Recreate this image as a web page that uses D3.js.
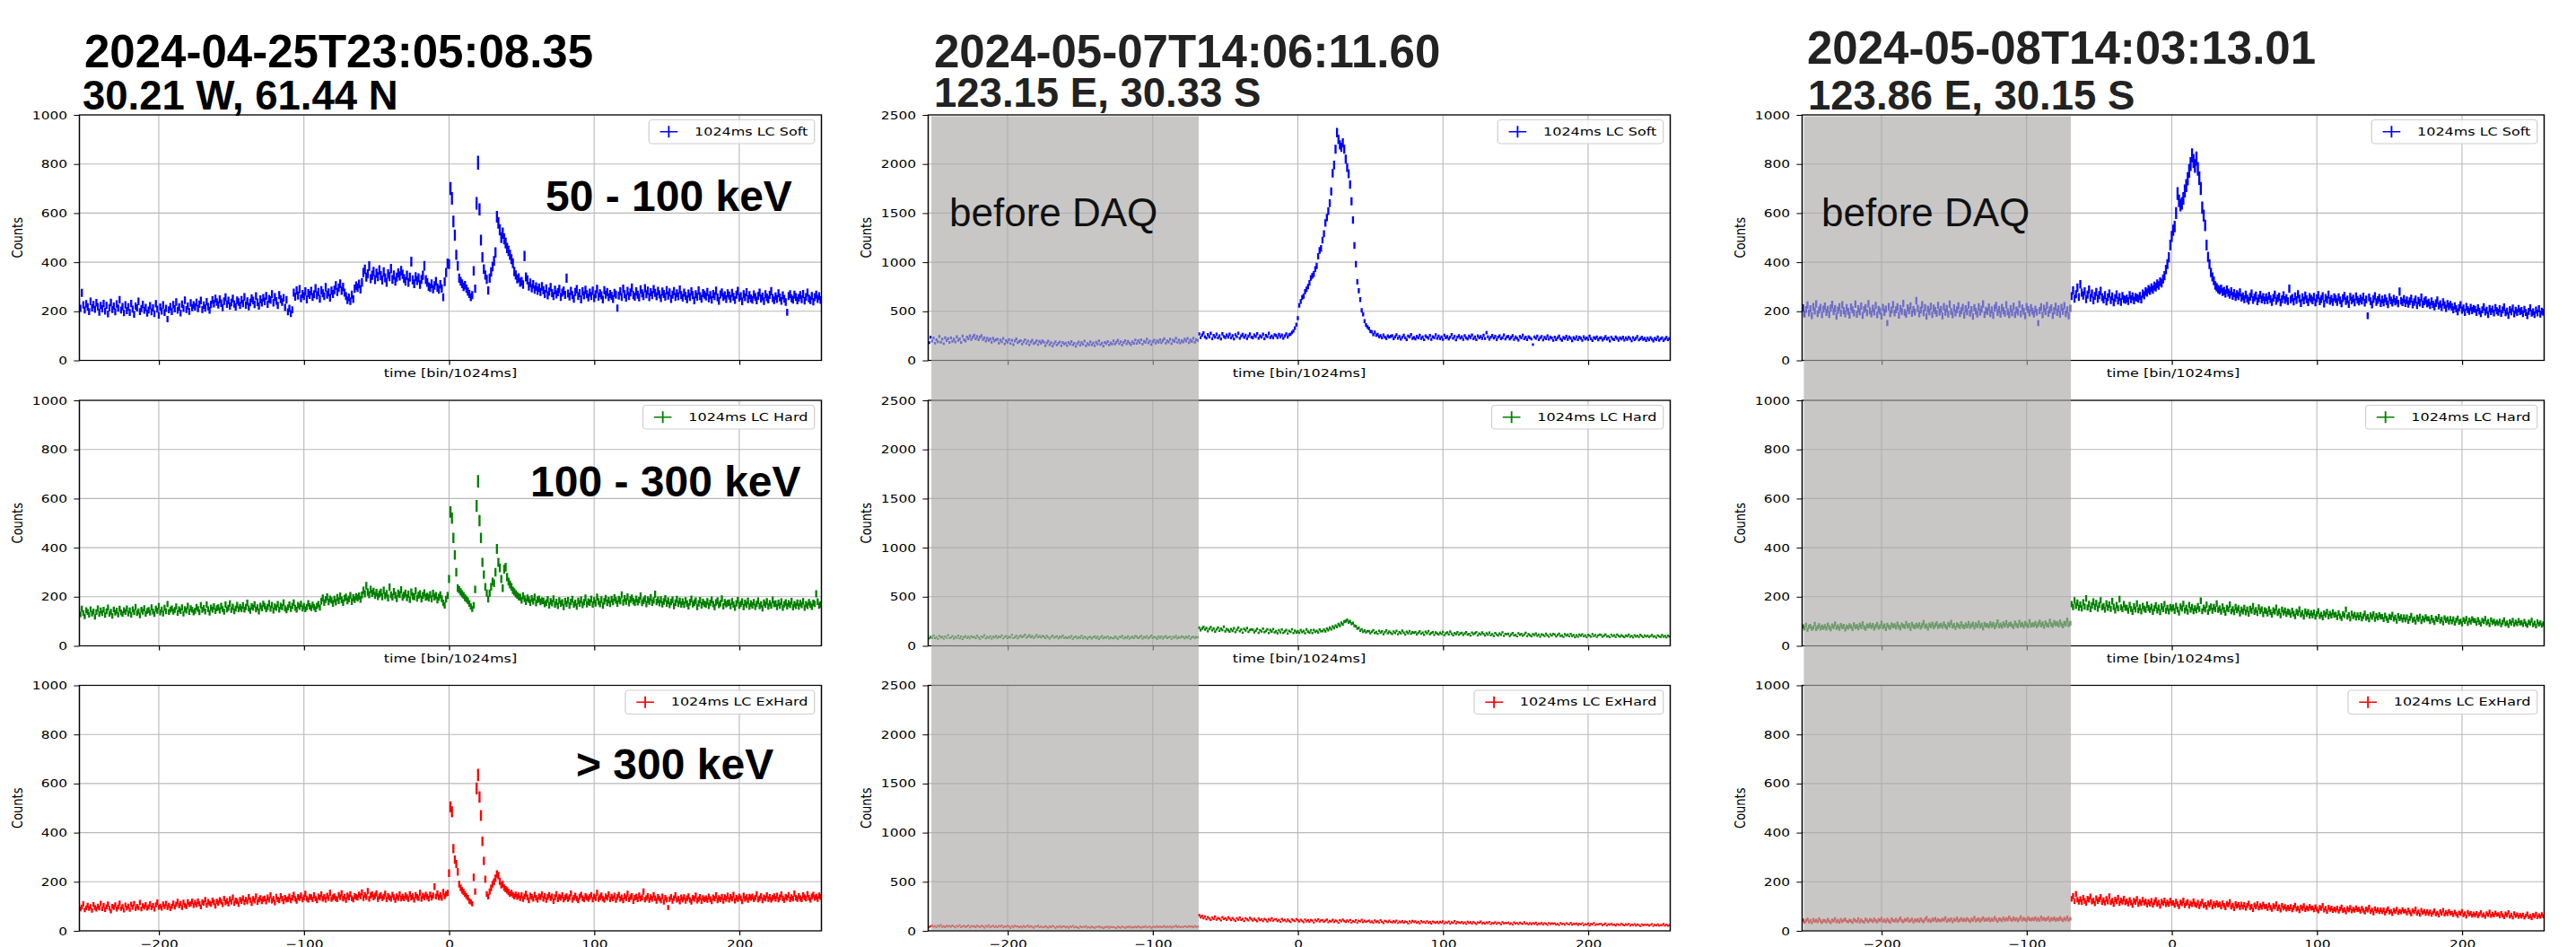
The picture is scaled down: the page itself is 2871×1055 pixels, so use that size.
<!DOCTYPE html>
<html><head><meta charset="utf-8">
<script src="https://cdn.jsdelivr.net/npm/d3@7"></script>
<style>body{margin:0;background:#fff}svg{display:block}</style>
</head><body>
<script>
// ---------------- DATA ----------------
const firstBin = -255;              // time bin of first value, one value per 1024 ms bin
const xTicks = [-200, -100, 0, 100, 200];
const titleDates = ["2024-04-25T23:05:08.35", "2024-05-07T14:06:11.60", "2024-05-08T14:03:13.01"];
const titleLocs = ["30.21 W, 61.44 N", "123.15 E, 30.33 S", "123.86 E, 30.15 S"];
const legendLabels = ["1024ms LC Soft", "1024ms LC Hard", "1024ms LC ExHard"];
const energyLabels = ["50 - 100 keV", "100 - 300 keV", "> 300 keV"];
const yMaxByEvent = [1000, 2500, 1000];
const yStepByEvent = [200, 500, 200];
const daqWindow = [null, [-252.5, -68.3], [-253.5, -69.5]]; // "before DAQ" shaded span (time bins)
const daqLabel = "before DAQ";

// Event A (2024-04-25)
const evtA_soft = [
238,212,275,226,205,231,218,199,240,214,227,208,235,219,196,224,
210,232,201,224,189,215,236,207,221,198,230,213,247,205,219,194,
226,203,218,195,232,209,187,221,214,240,199,211,228,204,216,192,
205,223,198,214,190,231,209,184,217,201,226,195,212,168,206,219,
199,227,210,238,204,218,193,229,212,245,207,221,200,234,215,226,
218,236,211,229,244,207,225,213,239,219,204,228,246,231,252,238,
226,249,233,215,241,257,229,244,221,236,252,230,218,245,238,224,
247,232,258,225,241,219,236,253,244,228,262,237,221,249,235,255,
240,263,229,251,246,270,235,258,242,224,266,249,238,255,216,247,
198,212,190,206,276,259,285,264,290,253,271,262,281,248,274,267,
283,258,270,294,265,279,251,286,273,262,298,268,277,255,284,271,
287,305,279,296,312,284,299,276,262,245,256,241,268,250,292,304,
296,311,289,318,358,371,339,352,384,333,347,362,329,355,341,368,
345,327,360,336,318,352,341,374,330,348,322,339,356,344,366,351,
334,322,347,318,339,402,328,312,341,325,336,309,330,347,385,329,
318,301,296,312,290,305,322,296,288,310,293,257,320,358,395,392,
700,660,566,510,430,385,335,322,312,300,306,292,280,271,257,266,
365,292,640,805,615,490,420,372,348,330,285,335,360,382,405,440,
585,560,532,500,518,495,478,458,446,430,412,396,362,348,332,336,
318,322,309,425,340,328,302,316,294,310,288,301,284,296,279,302,
286,271,293,265,280,298,274,262,287,269,278,291,258,276,284,267,
335,272,260,283,266,251,279,290,262,274,248,281,265,287,270,256,
276,262,284,254,270,291,259,273,265,248,286,268,279,257,271,263,
250,275,268,213,264,281,258,292,270,255,283,262,277,296,266,259,
281,268,256,289,273,262,294,270,284,257,278,266,290,275,261,283,
269,254,280,271,259,286,264,277,250,268,282,258,273,261,288,266,
255,276,263,249,272,258,281,266,244,270,259,285,262,251,274,268,
260,279,253,266,247,271,262,284,256,242,269,277,258,265,250,273,
264,251,275,259,246,268,283,255,262,240,270,257,278,249,266,253,
247,269,258,244,263,276,252,260,241,270,256,248,267,282,254,245,
261,250,273,256,242,265,251,238,196,262,270,253,247,268,258,244,
255,266,249,271,243,258,276,252,245,263,239,257,268,250,262,246];

const evtA_hard = [
142,128,151,133,120,145,138,126,149,131,140,118,137,152,129,144,
133,147,125,141,156,130,139,122,148,135,143,127,151,136,129,145,
138,152,131,144,126,149,137,158,133,141,124,147,139,153,130,142,
146,135,157,140,129,151,143,162,136,148,131,155,141,170,138,147,
152,139,146,160,134,149,142,157,131,150,144,163,138,153,147,136,
143,158,150,137,165,146,154,140,168,149,135,156,147,161,142,153,
157,144,163,150,139,168,148,155,172,146,159,141,152,166,149,158,
150,165,147,158,175,152,143,161,156,169,148,157,140,163,153,171,
162,149,158,173,151,166,144,160,155,170,147,163,158,176,152,145,
157,168,150,163,176,155,147,166,159,171,152,162,149,158,173,161,
154,167,158,149,163,170,156,182,195,176,188,200,179,191,185,172,
190,178,197,184,203,187,176,194,199,183,191,205,180,196,188,201,
195,203,189,207,226,212,245,219,208,230,214,222,205,217,201,211,
218,200,226,204,213,195,239,208,199,221,206,192,215,209,228,198,
207,215,196,210,188,219,203,200,224,194,206,212,190,205,216,198,
202,195,209,191,214,199,205,186,198,208,192,175,165,190,205,272,
545,520,440,370,300,235,228,220,212,205,196,190,184,172,160,150,
165,230,570,670,510,440,340,290,240,215,190,215,240,262,255,300,
395,340,318,272,235,312,320,280,262,250,240,226,220,212,206,200,
198,185,204,192,180,195,188,176,193,182,199,174,187,191,179,184,
183,170,176,189,165,181,174,192,168,179,163,185,172,177,158,182,
171,186,164,179,190,168,175,160,183,172,187,166,178,195,169,180,
176,191,168,185,173,199,181,170,188,164,182,194,175,186,171,190,
179,196,185,172,190,183,208,177,193,181,200,174,188,195,182,176,
191,178,186,203,175,184,192,170,188,181,197,176,185,210,179,187,
174,188,169,181,193,172,184,166,179,187,162,176,190,171,183,168,
180,167,185,172,161,178,191,169,176,184,158,173,186,165,179,171,
168,181,163,175,187,170,158,177,184,166,173,192,161,178,169,174,
176,162,181,168,155,173,186,164,171,180,158,175,167,183,160,172,
165,178,159,171,184,162,169,152,176,167,181,160,173,164,187,170,
172,158,175,164,180,155,169,177,161,173,166,182,157,170,163,176,
160,174,166,181,155,170,163,178,168,159,175,171,212,180,164,169];

const evtA_exhard = [
102,89,97,110,85,94,104,91,99,83,107,95,88,101,93,112,
90,103,86,98,109,92,80,100,95,106,88,97,113,91,99,84,
105,93,101,87,108,96,111,90,100,94,115,89,102,97,107,92,
98,110,94,103,88,106,117,96,101,92,109,99,112,95,104,90,
100,113,97,108,120,102,111,95,116,104,99,118,107,110,121,103,
115,106,121,110,98,117,113,127,104,119,112,108,124,116,101,120,
113,126,119,107,131,115,122,110,129,118,136,112,124,120,108,127,
121,133,116,128,119,138,125,112,130,123,141,117,127,134,120,129,
132,119,136,126,145,123,130,115,139,128,124,142,131,120,135,127,
129,140,124,135,147,130,122,138,133,144,127,136,151,131,126,139,
137,128,145,132,124,140,135,149,130,138,126,143,134,155,129,136,
141,132,128,146,137,153,131,139,125,144,136,150,133,127,142,138,
135,148,141,157,133,146,138,162,130,144,149,136,143,152,129,140,
145,133,139,151,128,142,136,130,147,137,125,141,134,149,131,139,
132,144,137,129,150,135,141,126,146,138,133,155,130,143,136,147,
139,131,148,135,144,180,140,152,136,145,134,158,141,150,155,235,
505,485,335,290,272,240,190,175,165,158,150,142,135,122,118,110,
218,160,580,635,545,470,365,285,210,150,140,160,175,190,200,215,
232,225,202,186,190,176,170,165,158,150,155,146,140,148,138,144,
133,145,129,140,151,136,124,143,138,130,147,135,126,141,137,149,
130,142,125,138,146,133,140,121,137,150,128,139,134,145,127,136,
141,129,137,152,126,135,143,131,124,139,147,133,128,142,136,130,
138,146,127,140,133,155,129,137,144,131,126,141,135,149,128,139,
132,143,125,138,147,130,136,124,141,133,151,128,137,142,121,135,
139,128,144,131,136,160,127,134,142,125,137,130,146,133,122,138,
131,124,140,118,135,127,95,129,138,122,133,145,126,131,119,136,
127,137,122,133,141,126,118,135,130,144,123,129,138,121,134,128,
133,125,140,129,120,136,131,145,124,134,128,139,122,137,130,143,
126,138,131,147,123,135,129,140,133,120,143,130,137,125,139,134,
140,128,135,150,127,133,142,124,136,131,145,129,138,126,134,141,
130,143,127,136,149,132,125,139,134,146,128,137,131,152,135,129,
142,133,128,145,137,131,150,135,126,140,147,134,139,129,144,138];

// Event B (2024-05-07)
const evtB_soft = [
223,180,237,197,227,175,210,190,243,185,217,170,231,201,220,183,
230,195,215,188,240,205,219,182,246,210,198,236,221,250,213,238,
255,220,243,211,236,252,214,230,196,225,203,218,185,224,199,210,
215,176,208,190,223,168,200,185,212,172,205,160,198,219,180,193,
201,165,190,210,172,196,158,188,205,170,181,200,162,193,176,198,
185,150,178,196,160,181,145,170,190,157,175,188,149,182,165,177,
150,182,165,192,158,175,143,170,187,155,180,163,196,148,172,160,
190,158,177,150,185,167,199,161,176,145,183,170,192,156,179,165,
198,165,186,205,170,189,157,182,201,168,193,176,160,190,174,208,
172,200,181,210,166,194,185,215,178,196,162,189,206,175,199,184,
210,180,202,221,175,199,188,215,170,204,193,225,184,208,178,200,
188,215,196,222,180,207,193,226,185,211,203,270,232,258,280,240,
228,262,240,275,221,253,236,268,230,250,219,271,243,233,259,238,
266,230,252,218,260,241,277,226,249,264,235,255,222,247,270,237,
231,258,243,272,225,250,236,266,220,254,241,275,233,248,229,261,
253,232,264,240,258,226,249,270,238,261,268,285,300,330,365,430,
560,600,640,655,700,725,752,790,840,862,880,930,962,1060,1120,1140,
1225,1290,1400,1455,1520,1600,1720,1905,1990,2150,2320,2250,2195,2170,2215,2150,
2050,1965,1900,1790,1620,1430,1170,980,800,710,620,510,470,400,360,340,
325,296,292,262,288,255,264,240,251,229,258,237,222,250,236,245,
252,221,240,260,226,243,215,237,256,230,212,248,239,263,224,233,
218,245,230,257,222,238,210,250,236,226,254,214,241,232,260,225,
247,220,239,213,255,231,242,218,236,262,225,244,208,237,251,227,
240,214,252,229,219,246,233,258,221,238,211,249,230,243,224,255,
222,283,241,215,236,254,227,244,212,237,250,220,231,258,218,239,
245,219,233,252,214,238,226,207,243,230,256,221,235,211,240,229,
217,162,239,225,248,212,230,243,208,234,221,250,215,237,227,203,
236,211,229,247,218,205,233,222,244,214,238,226,200,231,219,241,
210,235,226,204,240,218,229,213,246,221,201,232,224,238,209,227,
231,207,224,242,215,228,198,236,219,210,239,225,204,230,217,235,
206,229,214,237,221,199,232,210,226,243,208,220,235,213,224,202,
227,209,232,216,198,224,211,238,205,220,230,201,219,234,210,222];

const evtB_hard = [
98,74,92,80,105,77,89,70,101,84,93,72,96,81,108,79,
85,99,73,91,82,104,76,95,68,88,100,79,93,74,97,86,
92,78,103,84,71,96,87,109,75,90,81,98,73,94,85,101,
80,95,86,107,74,91,99,77,93,84,110,79,88,102,76,94,
104,86,97,113,82,95,108,88,100,79,94,111,87,99,84,102,
95,78,101,86,72,92,105,81,90,98,76,93,84,103,80,89,
77,92,83,99,71,87,95,74,89,80,102,76,91,85,70,88,
90,72,86,97,78,93,69,84,100,75,88,81,96,73,87,79,
76,95,82,70,91,86,102,74,89,80,97,72,85,93,78,99,
93,77,88,101,73,90,82,98,75,87,105,79,92,84,71,95,
80,96,73,89,100,78,86,94,70,91,83,99,76,88,81,97,
89,75,93,82,98,71,87,94,79,90,84,185,158,176,192,165,
181,150,172,190,158,176,145,168,186,153,175,162,194,148,170,160,
145,170,152,178,140,163,185,149,166,135,172,156,180,143,161,168,
164,138,155,172,133,158,146,175,140,152,168,130,160,145,170,137,
150,128,158,137,165,132,148,160,125,153,141,168,130,155,136,147,
133,160,139,152,128,167,145,135,158,130,162,141,153,136,166,149,
150,165,147,175,160,185,168,196,180,206,192,220,205,234,218,246,
252,262,240,250,226,232,204,200,176,182,155,168,143,156,137,150,
150,127,144,158,130,141,122,153,135,147,119,140,156,128,145,133,
121,146,130,152,118,139,127,155,134,115,143,129,150,124,138,132,
140,117,133,148,122,135,112,143,127,150,119,131,138,110,136,125,
115,134,120,141,108,128,137,117,145,124,106,131,119,138,113,127,
132,110,125,139,114,122,103,134,118,128,140,107,126,115,136,121,
104,127,113,134,109,120,99,130,116,105,125,112,137,101,122,118,
124,100,117,131,106,113,96,128,110,121,102,116,133,98,119,108,
97,120,108,126,101,115,93,117,111,99,124,106,91,118,104,122,
116,95,110,123,99,107,90,119,103,114,96,121,100,111,88,108,
92,114,101,118,96,107,87,112,104,93,120,98,110,89,106,115,
111,91,104,117,95,100,86,113,98,108,90,115,102,93,109,97,
88,106,97,114,91,102,84,109,95,104,89,112,99,86,107,94,
105,89,100,111,93,98,83,107,96,90,110,92,101,85,103,95];

const evtB_exhard = [
52,38,47,57,41,49,35,54,44,60,39,48,36,53,43,50,
40,55,45,33,51,42,58,37,47,53,39,46,56,34,49,44,
49,36,54,43,38,52,46,31,50,41,57,37,45,53,35,48,
37,51,42,55,34,46,40,53,44,30,49,39,52,43,47,36,
46,33,50,39,44,55,36,48,41,30,47,42,52,35,45,38,
35,48,40,31,46,37,51,42,29,44,38,49,34,43,47,33,
43,30,45,38,51,33,41,36,28,47,35,42,39,49,32,40,
31,44,36,29,42,38,47,33,40,26,39,35,45,30,41,37,
40,33,27,43,36,31,45,38,29,41,35,47,32,39,34,44,
34,46,39,31,42,36,49,33,40,45,30,38,43,35,48,37,
45,36,41,50,34,43,38,47,32,44,40,52,37,46,35,42,
38,47,43,35,49,41,46,36,51,39,44,160,138,152,128,145,
118,140,126,110,134,121,145,114,131,124,106,138,120,129,112,136,
125,108,130,116,102,127,113,135,110,121,99,129,117,106,132,119,
104,123,111,97,126,108,118,100,121,113,95,119,107,128,103,115,
118,99,110,92,121,104,113,96,115,102,89,117,106,98,120,108,
94,113,101,88,116,97,108,91,110,103,85,112,99,118,95,106,
109,92,104,114,87,101,95,112,90,106,98,83,108,96,115,100,
89,106,94,110,85,99,92,108,81,101,96,113,88,103,93,98,
103,86,97,81,106,90,99,84,108,93,78,101,95,87,104,91,
84,99,88,103,79,95,86,100,82,96,91,76,98,85,102,89,
97,81,92,76,100,86,94,79,98,83,90,73,95,88,80,93,
78,93,84,97,74,89,81,95,72,88,83,99,76,90,85,80,
90,75,86,70,93,79,88,73,91,80,68,87,83,95,76,84,
72,87,77,91,68,83,75,89,70,85,80,66,88,74,82,78,
84,69,79,64,87,73,81,67,85,75,70,89,72,78,65,80,
66,80,71,85,62,76,69,82,64,78,73,60,81,68,77,71,
77,63,72,58,80,67,74,61,79,70,65,83,62,73,68,75,
60,74,65,79,57,70,63,76,55,71,66,81,59,68,64,72,
71,57,66,75,54,68,61,73,59,65,52,70,63,58,74,62,
55,68,60,72,51,64,57,70,53,66,61,48,67,56,63,59,
65,52,61,70,49,62,55,67,51,60,57,71,53,64,50,58];

// Event C (2024-05-08)
const evtC_soft = [
196,214,188,207,225,193,210,182,219,201,230,190,205,216,185,209,
221,195,208,186,213,228,199,211,180,204,218,192,226,203,189,215,
200,184,217,206,193,229,187,210,198,221,183,207,215,194,231,202,
189,212,197,224,185,208,201,180,216,195,209,152,219,190,205,227,
193,206,218,184,211,200,232,195,187,214,203,222,191,208,197,243,
212,189,205,226,194,215,180,209,198,220,186,213,203,191,224,197,
208,181,219,196,211,188,229,200,185,214,193,206,222,190,203,216,
184,210,198,225,192,207,179,215,201,188,218,196,209,230,186,204,
199,217,190,206,183,213,224,195,208,187,216,202,192,226,198,185,
211,194,220,186,205,197,228,189,213,200,182,219,207,193,215,201,
188,209,196,152,203,218,185,212,199,224,191,206,214,183,202,220,
195,210,187,216,200,223,190,206,181,212,262,285,251,270,296,258,
310,276,264,281,249,268,288,255,272,244,263,279,251,266,283,257,
248,266,239,257,272,245,261,236,254,269,243,258,238,263,250,246,
252,241,266,249,261,244,258,255,251,263,248,272,265,281,276,290,
284,296,288,303,298,312,305,320,315,332,345,370,392,420,470,505,
530,545,600,680,650,632,640,660,690,712,740,772,800,835,812,792,
822,780,742,700,622,590,550,470,422,392,358,340,324,305,298,290,
286,292,279,283,272,288,276,268,281,263,274,258,270,262,277,255,
261,249,268,252,243,259,272,246,256,264,240,253,267,248,258,244,
257,245,263,250,238,255,268,242,253,260,236,249,265,246,254,241,
292,248,255,239,261,246,270,252,233,257,244,264,249,237,258,251,
244,259,236,253,266,240,250,262,231,255,247,268,242,251,238,257,
250,238,257,245,232,254,263,241,248,229,259,244,252,236,261,247,
239,252,243,260,235,248,182,256,241,227,250,262,238,246,255,233,
248,236,253,241,228,257,244,235,251,239,246,232,280,243,237,250,
233,245,230,241,252,227,238,248,224,243,235,256,229,240,246,231,
236,224,241,228,219,233,245,222,230,216,238,225,212,231,220,227,
218,206,222,210,198,215,226,204,213,195,219,207,200,216,203,211,
208,195,214,201,190,206,218,197,204,186,211,199,209,193,215,202,
196,210,191,205,217,194,201,183,207,198,213,189,204,195,211,199,
203,190,208,195,182,200,214,192,198,186,205,193,210,188,201,196];

const evtC_hard = [
68,79,72,85,66,77,81,70,74,88,69,76,83,71,78,73,
80,71,86,75,68,82,77,90,73,79,70,84,76,81,67,78,
74,83,78,69,87,76,80,72,85,77,91,75,70,82,79,86,
77,84,71,80,88,74,79,93,76,82,69,85,78,73,87,80,
83,75,89,78,72,86,81,77,92,79,84,70,88,80,76,85,
79,87,74,83,95,78,82,71,86,80,89,76,84,91,77,82,
85,78,90,81,74,88,83,96,79,84,73,87,82,77,91,80,
76,86,80,92,78,83,89,75,87,81,94,79,85,72,88,83,
84,79,91,82,88,76,85,98,80,86,78,90,83,95,81,87,
89,82,77,93,85,80,96,84,88,79,92,86,81,99,83,87,
85,92,80,88,97,84,90,78,94,86,83,101,87,82,95,89,
91,84,98,87,80,93,88,104,85,92,170,158,185,163,176,155,
168,152,177,160,193,156,171,149,165,180,158,174,151,166,185,157,
162,147,172,155,168,150,182,159,144,166,153,190,157,149,170,156,
155,143,166,150,138,161,148,172,145,157,140,163,151,146,168,154,
146,159,138,153,165,144,156,137,161,149,170,143,155,140,158,151,
157,142,163,148,135,160,152,171,144,155,139,166,147,158,141,153,
145,162,150,184,141,156,148,167,138,153,160,143,158,149,172,146,
152,139,160,146,134,155,149,168,141,150,137,158,145,153,131,148,
140,155,136,148,130,151,143,162,138,146,133,157,141,149,128,145,
142,131,150,137,126,145,139,156,133,141,124,148,135,144,129,140,
136,125,143,131,120,139,133,149,127,135,118,141,129,138,122,134,
124,136,118,130,142,121,128,115,133,126,139,119,131,123,137,125,
128,116,134,121,112,130,124,148,118,126,110,132,120,127,114,125,
115,127,110,121,132,113,119,106,125,117,129,108,122,114,126,118,
119,107,124,112,103,120,115,128,109,116,101,122,111,118,105,117,
106,117,100,112,123,104,109,97,116,108,120,99,113,105,118,110,
110,99,115,104,95,112,107,119,101,108,93,114,103,109,97,111,
98,109,92,104,113,96,101,89,107,100,111,91,105,97,110,103,
102,92,107,96,88,104,99,111,93,100,86,106,95,101,90,97,
91,101,85,96,106,89,94,82,99,92,104,87,97,90,103,93,
95,86,100,89,82,97,92,104,85,93,80,98,88,94,83,90];

const evtC_exhard = [
38,44,35,41,47,36,42,33,45,39,43,37,48,40,34,42,
41,36,46,39,33,44,40,49,37,42,35,45,38,43,47,39,
37,43,40,34,46,41,38,48,36,44,39,35,47,42,37,45,
43,38,47,41,36,45,42,50,39,44,37,46,40,35,48,42,
40,46,38,44,51,41,37,45,43,49,39,42,47,36,44,41,
45,39,48,42,37,46,53,41,44,38,47,43,50,40,45,42,
41,47,44,52,39,45,42,48,37,46,43,51,40,44,49,42,
46,42,49,44,38,47,43,54,41,45,48,40,46,52,43,47,
44,50,41,47,43,53,45,39,48,46,42,51,44,49,45,55,
47,43,51,45,49,41,48,56,44,50,46,42,52,47,45,49,
46,52,44,49,43,55,47,50,45,48,53,42,49,46,51,44,
48,45,53,47,42,50,46,55,44,49,130,142,121,150,127,118,
129,117,135,122,113,131,126,140,119,124,111,133,121,128,138,116,
125,114,130,119,141,116,123,108,128,120,135,112,124,118,131,115,
121,110,126,115,104,123,117,130,108,119,112,127,114,120,106,118,
110,122,105,117,126,108,115,101,120,112,124,107,116,109,123,113,
114,104,120,109,99,116,111,124,103,113,118,101,112,107,121,108,
104,115,99,110,120,102,107,96,113,106,117,98,111,103,114,105,
109,98,113,103,94,111,106,118,97,104,90,110,101,107,95,108,
97,107,92,103,112,95,100,86,105,98,110,93,102,96,108,99,
100,91,105,95,87,102,97,109,90,98,84,103,93,99,88,96,
90,99,85,95,104,88,93,81,97,91,102,86,94,89,100,92,
94,85,98,88,80,95,91,103,84,92,78,96,87,93,82,89,
84,93,79,89,97,82,87,76,91,85,95,80,88,83,94,86,
88,79,92,83,75,89,84,96,78,85,72,90,81,87,77,86,
77,86,72,82,90,75,80,69,84,78,88,73,81,76,87,79,
81,72,85,76,68,83,77,89,71,78,66,84,74,80,70,79,
70,78,66,74,82,68,73,63,79,71,84,67,75,69,80,72,
73,65,77,69,61,74,70,80,64,71,58,76,67,72,62,70,
64,72,60,68,75,62,67,57,71,65,77,61,69,63,74,66,
68,59,72,63,56,70,64,75,58,66,54,71,61,67,57,65,
58,66,54,62,70,56,61,51,65,59,69,55,63,57,68,60];

const eventSeries = [
  [evtA_soft, evtA_hard, evtA_exhard],
  [evtB_soft, evtB_hard, evtB_exhard],
  [evtC_soft, evtC_hard, evtC_exhard]
];

// ---------------- LAYOUT / STYLE ----------------
const W = 2871, H = 1055;
const SX = 1.23;                         // plots are horizontally stretched in the slide
const colLeft = [88.5, 1034.5, 2008.5];
const rowTop = [128, 446, 763.5];
const PW = 827, PH = 273.5, WN = PW / SX;
const xDomain = [-254.7, 256.6];
const seriesColors = ["#0000ff", "#008000", "#ff0000"];
const plotFont = "DejaVu Sans, Verdana, sans-serif";
const boldFont = "'Liberation Sans', Arial, Helvetica, sans-serif";

const svg = d3.select("body").append("svg").attr("width", W).attr("height", H);
svg.append("rect").attr("width", W).attr("height", H).attr("fill", "#fff");

eventSeries.forEach((col, c) => {
  col.forEach((vals, r) => {
    const g = svg.append("g").attr("transform", `translate(${colLeft[c]},${rowTop[r]}) scale(${SX},1)`);
    const x = d3.scaleLinear().domain(xDomain).range([0, WN]);
    const y = d3.scaleLinear().domain([0, yMaxByEvent[c]]).range([PH, 0]);
    const yTicks = d3.range(0, yMaxByEvent[c] + 1, yStepByEvent[c]);

    // grid
    g.append("g").selectAll("line").data(xTicks).join("line")
      .attr("x1", d => x(d)).attr("x2", d => x(d)).attr("y1", 0).attr("y2", PH)
      .attr("stroke", "#b9b9b9").attr("stroke-width", 0.9);
    g.append("g").selectAll("line").data(yTicks).join("line")
      .attr("x1", 0).attr("x2", WN).attr("y1", d => y(d)).attr("y2", d => y(d))
      .attr("stroke", "#b9b9b9").attr("stroke-width", 1.1);

    // data as error bars (x: +/-0.5 bin, y: +/-sqrt(N))
    const cid = `clip-${c}-${r}`;
    g.append("clipPath").attr("id", cid).append("rect").attr("width", WN).attr("height", PH);
    const p = d3.path();
    vals.forEach((v, i) => {
      const t = firstBin + i, e = Math.sqrt(v);
      p.moveTo(x(t), y(v + e)); p.lineTo(x(t), y(v - e));
      p.moveTo(x(t - 0.5), y(v)); p.lineTo(x(t + 0.5), y(v));
    });
    g.append("path").attr("d", p.toString()).attr("clip-path", `url(#${cid})`)
      .attr("fill", "none").attr("stroke", seriesColors[r]).attr("stroke-width", 1.9);

    // axes
    const xa = g.append("g").attr("transform", `translate(0,${PH})`)
      .call(d3.axisBottom(x).tickValues(xTicks).tickSize(5).tickPadding(5)
        .tickFormat(r === 2 ? d3.format("d") : () => ""));
    const ya = g.append("g")
      .call(d3.axisLeft(y).tickValues(yTicks).tickSize(5).tickPadding(6).tickFormat(d3.format("d")));
    [xa, ya].forEach(a => {
      a.select(".domain").remove();
      a.attr("font-family", plotFont).attr("font-size", 12.5);
      a.selectAll("text").attr("fill", "#000");
    });

    // spines
    g.append("rect").attr("width", WN).attr("height", PH)
      .attr("fill", "none").attr("stroke", "#000").attr("stroke-width", 1.2);

    // labels
    g.append("text").attr("transform", `translate(-51.5,${PH / 2}) rotate(-90)`)
      .attr("text-anchor", "middle").attr("font-family", plotFont).attr("font-size", 13)
      .attr("fill", "#000").text("Counts");
    if (r < 2) {
      g.append("text").attr("x", WN / 2).attr("y", PH + 18.5)
        .attr("text-anchor", "middle").attr("font-family", plotFont).attr("font-size", 13)
        .attr("fill", "#000").text("time [bin/1024ms]");
    }

    // legend
    const lg = g.append("g");
    const boxR = WN - 6.3, boxT = 5.5, boxH = 26.5;
    const lbox = lg.append("rect");
    const lt = lg.append("text").attr("x", boxR - 6).attr("y", boxT + 17.5)
      .attr("text-anchor", "end").attr("font-family", plotFont).attr("font-size", 13)
      .attr("fill", "#000").text(legendLabels[r]);
    const tw = lt.node().getComputedTextLength();
    const hx = boxR - 6 - tw - 23.3, hy = boxT + boxH / 2;
    lg.append("path").attr("d", `M${hx - 8},${hy}H${hx + 8}M${hx},${hy - 6.5}V${hy + 6.5}`)
      .attr("stroke", seriesColors[r]).attr("stroke-width", 1.5).attr("fill", "none");
    const boxL = hx - 18;
    lbox.attr("x", boxL).attr("y", boxT).attr("width", boxR - boxL).attr("height", boxH)
      .attr("rx", 3).attr("fill", "#fff").attr("fill-opacity", 0.8)
      .attr("stroke", "#cfcfcf").attr("stroke-width", 1);
  });
});

// "before DAQ" shading over events B and C
const overlay = svg.append("g");
daqWindow.forEach((span, c) => {
  if (!span) return;
  const xa = d3.scaleLinear().domain(xDomain).range([colLeft[c], colLeft[c] + PW]);
  overlay.append("rect").attr("x", xa(span[0])).attr("y", 129.5)
    .attr("width", xa(span[1]) - xa(span[0])).attr("height", 1036 - 129.5)
    .attr("fill", "rgb(170,169,168)").attr("fill-opacity", 0.65);
});
const daqPos = [null, [1058, 252], [2030, 252]];
daqWindow.forEach((span, c) => {
  if (!span) return;
  svg.append("text").attr("x", daqPos[c][0]).attr("y", daqPos[c][1])
    .attr("font-family", boldFont).attr("font-size", 44).attr("fill", "#111").text(daqLabel);
});

// titles
const titlePos = [[94, 75, 92, 121.5], [1041, 75, 1041, 118.5], [2014, 71, 2015, 121.5]];
const titleColor = ["#000", "#222", "#222"];
titleDates.forEach((t, c) => {
  svg.append("text").attr("x", titlePos[c][0]).attr("y", titlePos[c][1])
    .attr("font-family", boldFont).attr("font-weight", 700).attr("font-size", 51)
    .attr("fill", titleColor[c]).text(t);
  svg.append("text").attr("x", titlePos[c][2]).attr("y", titlePos[c][3])
    .attr("font-family", boldFont).attr("font-weight", 700).attr("font-size", 45.5)
    .attr("fill", titleColor[c]).text(titleLocs[c]);
});

// energy band labels (event A column)
const energyPos = [[608, 235], [591, 553.3], [642, 868.3]];
energyLabels.forEach((t, r) => {
  svg.append("text").attr("x", energyPos[r][0]).attr("y", energyPos[r][1])
    .attr("font-family", boldFont).attr("font-weight", 700).attr("font-size", 48)
    .attr("fill", "#000").text(t);
});
</script>
</body></html>
